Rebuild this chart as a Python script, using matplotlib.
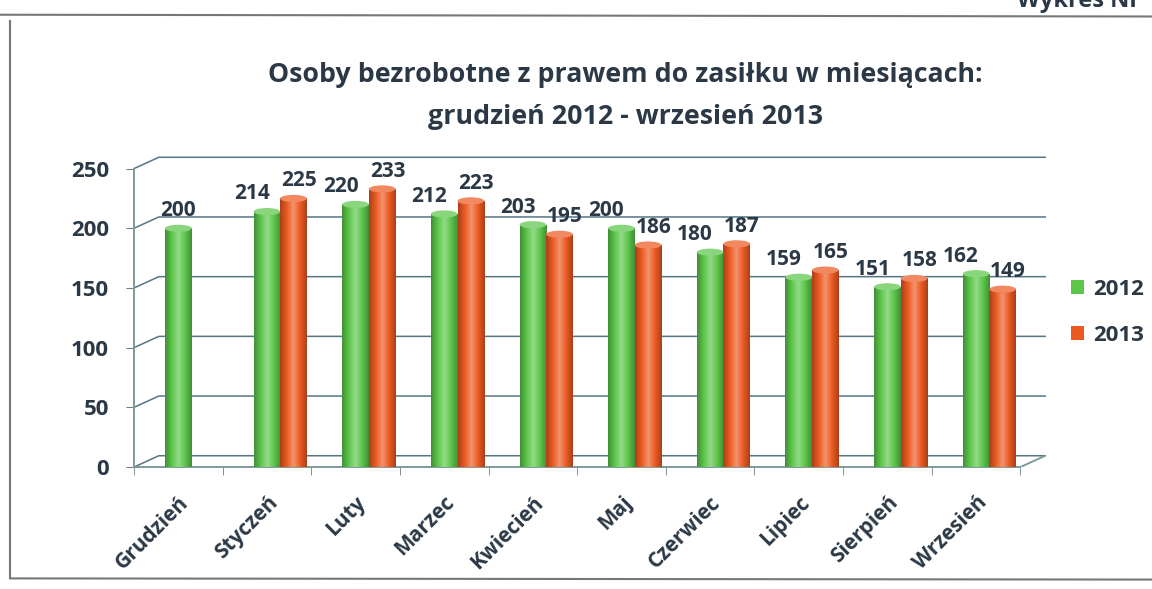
"""Osoby bezrobotne z prawem do zasiłku: słupki walcowe 2012 vs 2013."""

import matplotlib
matplotlib.use("Agg")
import matplotlib.pyplot as plt
import numpy as np
from matplotlib.colors import LinearSegmentedColormap
from matplotlib.lines import Line2D
from matplotlib.patches import Ellipse

months = ["Grudzień", "Styczeń", "Luty", "Marzec", "Kwiecień",
          "Maj", "Czerwiec", "Lipiec", "Sierpień", "Wrzesień"]
vals_2012 = [200, 214, 220, 212, 203, 200, 180, 159, 151, 162]
vals_2013 = [None, 225, 233, 223, 195, 186, 187, 165, 158, 149]
series_names = ["2012", "2013"]

plt.rcParams["font.family"] = ["Open Sans", "DejaVu Sans"]
TXT = "#2b3845"
GREEN = "#5cc64a"
ORANGE = "#ec5a22"
GRID = "#557585"

fig = plt.figure(figsize=(11.52, 5.89), dpi=100)
ax = fig.add_axes([0.1163, 0.207, 0.791, 0.528])

x = np.arange(len(months))
w = 0.30
depth_x, depth_y = 0.28, 9.5   # przesunięcie tylnej ściany (efekt 3D)


def shade(base):
    c = np.array(matplotlib.colors.to_rgb(base))
    dark = c * 0.72
    light = np.clip(c + (1 - c) * 0.35, 0, 1)
    return LinearSegmentedColormap.from_list("s", [dark, c, light, c, dark])


def cylinders(xs, vals, color, label, lab_dx):
    cm = shade(color)
    grad = np.linspace(0, 1, 64).reshape(1, -1)
    keep = [(xi, v, dx) for xi, v, dx in zip(xs, vals, lab_dx) if v is not None]
    bars = ax.bar([k[0] for k in keep], [k[1] for k in keep], width=w,
                  color=color, label=label, zorder=3, linewidth=0)
    for b, (xi, v, dx) in zip(bars, keep):
        im = ax.imshow(grad, cmap=cm, aspect="auto", zorder=3,
                       extent=[xi - w / 2, xi + w / 2, 0, v])
        im.set_clip_path(b)
        ax.add_patch(Ellipse((xi, v), w, 6, color=cm(0.55), zorder=4, lw=0))
        ax.add_patch(Ellipse((xi, 0), w, 6, color=cm(0.1), zorder=2.9, lw=0))
        ax.text(xi + dx, v + 6, str(v), ha="center", va="bottom", fontsize=15,
                fontweight="bold", color=TXT, zorder=5)
    return bars


dx_2012 = [0.0 if v13 is None else -0.17 for v13 in vals_2013]
dx_2013 = [0.06] * len(months)
cylinders(x, vals_2012, GREEN, series_names[0], dx_2012)
cylinders(x + w, vals_2013, ORANGE, series_names[1], dx_2013)

x0, x1 = -0.5, len(months) - 0.5
ax.set_xlim(x0, x1 + depth_x)
ax.set_ylim(0, 250 + depth_y + 1)
ax.set_yticks(range(0, 251, 50))
for t in range(0, 251, 50):
    ax.plot([x0, x0 + depth_x, x1 + depth_x], [t, t + depth_y, t + depth_y],
            color=GRID, lw=1.1, zorder=0.5, clip_on=False)
ax.plot([x1, x1 + depth_x], [0, depth_y], color="#7f9a9a", lw=1.4, zorder=0.5)

for s in ["top", "right"]:
    ax.spines[s].set_visible(False)
for s in ["left", "bottom"]:
    ax.spines[s].set_color("#7f9a9a")
    ax.spines[s].set_linewidth(1.4)
ax.spines["left"].set_bounds(0, 250)
ax.spines["bottom"].set_bounds(x0, x1)
ax.set_xticks(np.arange(x0, x1 + 0.01, 1), minor=True)
ax.set_xticks(x)
ax.tick_params(axis="x", which="major", length=0, pad=18)
ax.tick_params(axis="x", which="minor", length=6, color="#6f8080")
ax.tick_params(axis="y", length=6, color="#6f8080", pad=12)
ax.set_xticklabels(months, rotation=45, ha="right", rotation_mode="anchor",
                   fontsize=15, fontweight="bold", color=TXT)
for t in ax.get_yticklabels():
    t.set_fontsize(16)
    t.set_fontweight("bold")
    t.set_color(TXT)

fig.legend(loc="upper left", bbox_to_anchor=(0.912, 0.56), frameon=False,
           handlelength=0.6, handleheight=0.6, handletextpad=0.4,
           labelspacing=1.1, prop={"weight": "bold", "size": 16},
           labelcolor=TXT)

fig.text(0.543, 0.873, "Osoby bezrobotne z prawem do zasiłku w miesiącach:",
         ha="center", va="center", fontsize=19.3, fontweight="bold", color=TXT)
fig.text(0.543, 0.801, "grudzień 2012 - wrzesień 2013",
         ha="center", va="center", fontsize=19.3, fontweight="bold", color=TXT)
fig.text(0.99, 0.998, "Wykres Nr", ha="right", va="center", fontsize=17,
         fontweight="bold", color=TXT)

# ramka wykresu ze skanu
fig.add_artist(Line2D([0, 1], [0.975, 0.972], color="#777777", lw=1.5))
fig.add_artist(Line2D([0.009, 0.009], [0.965, 0.018], color="#777777", lw=1.5))
fig.add_artist(Line2D([0.009, 1], [0.018, 0.016], color="#777777", lw=1.5))

fig.savefig("out.png", dpi=100)
